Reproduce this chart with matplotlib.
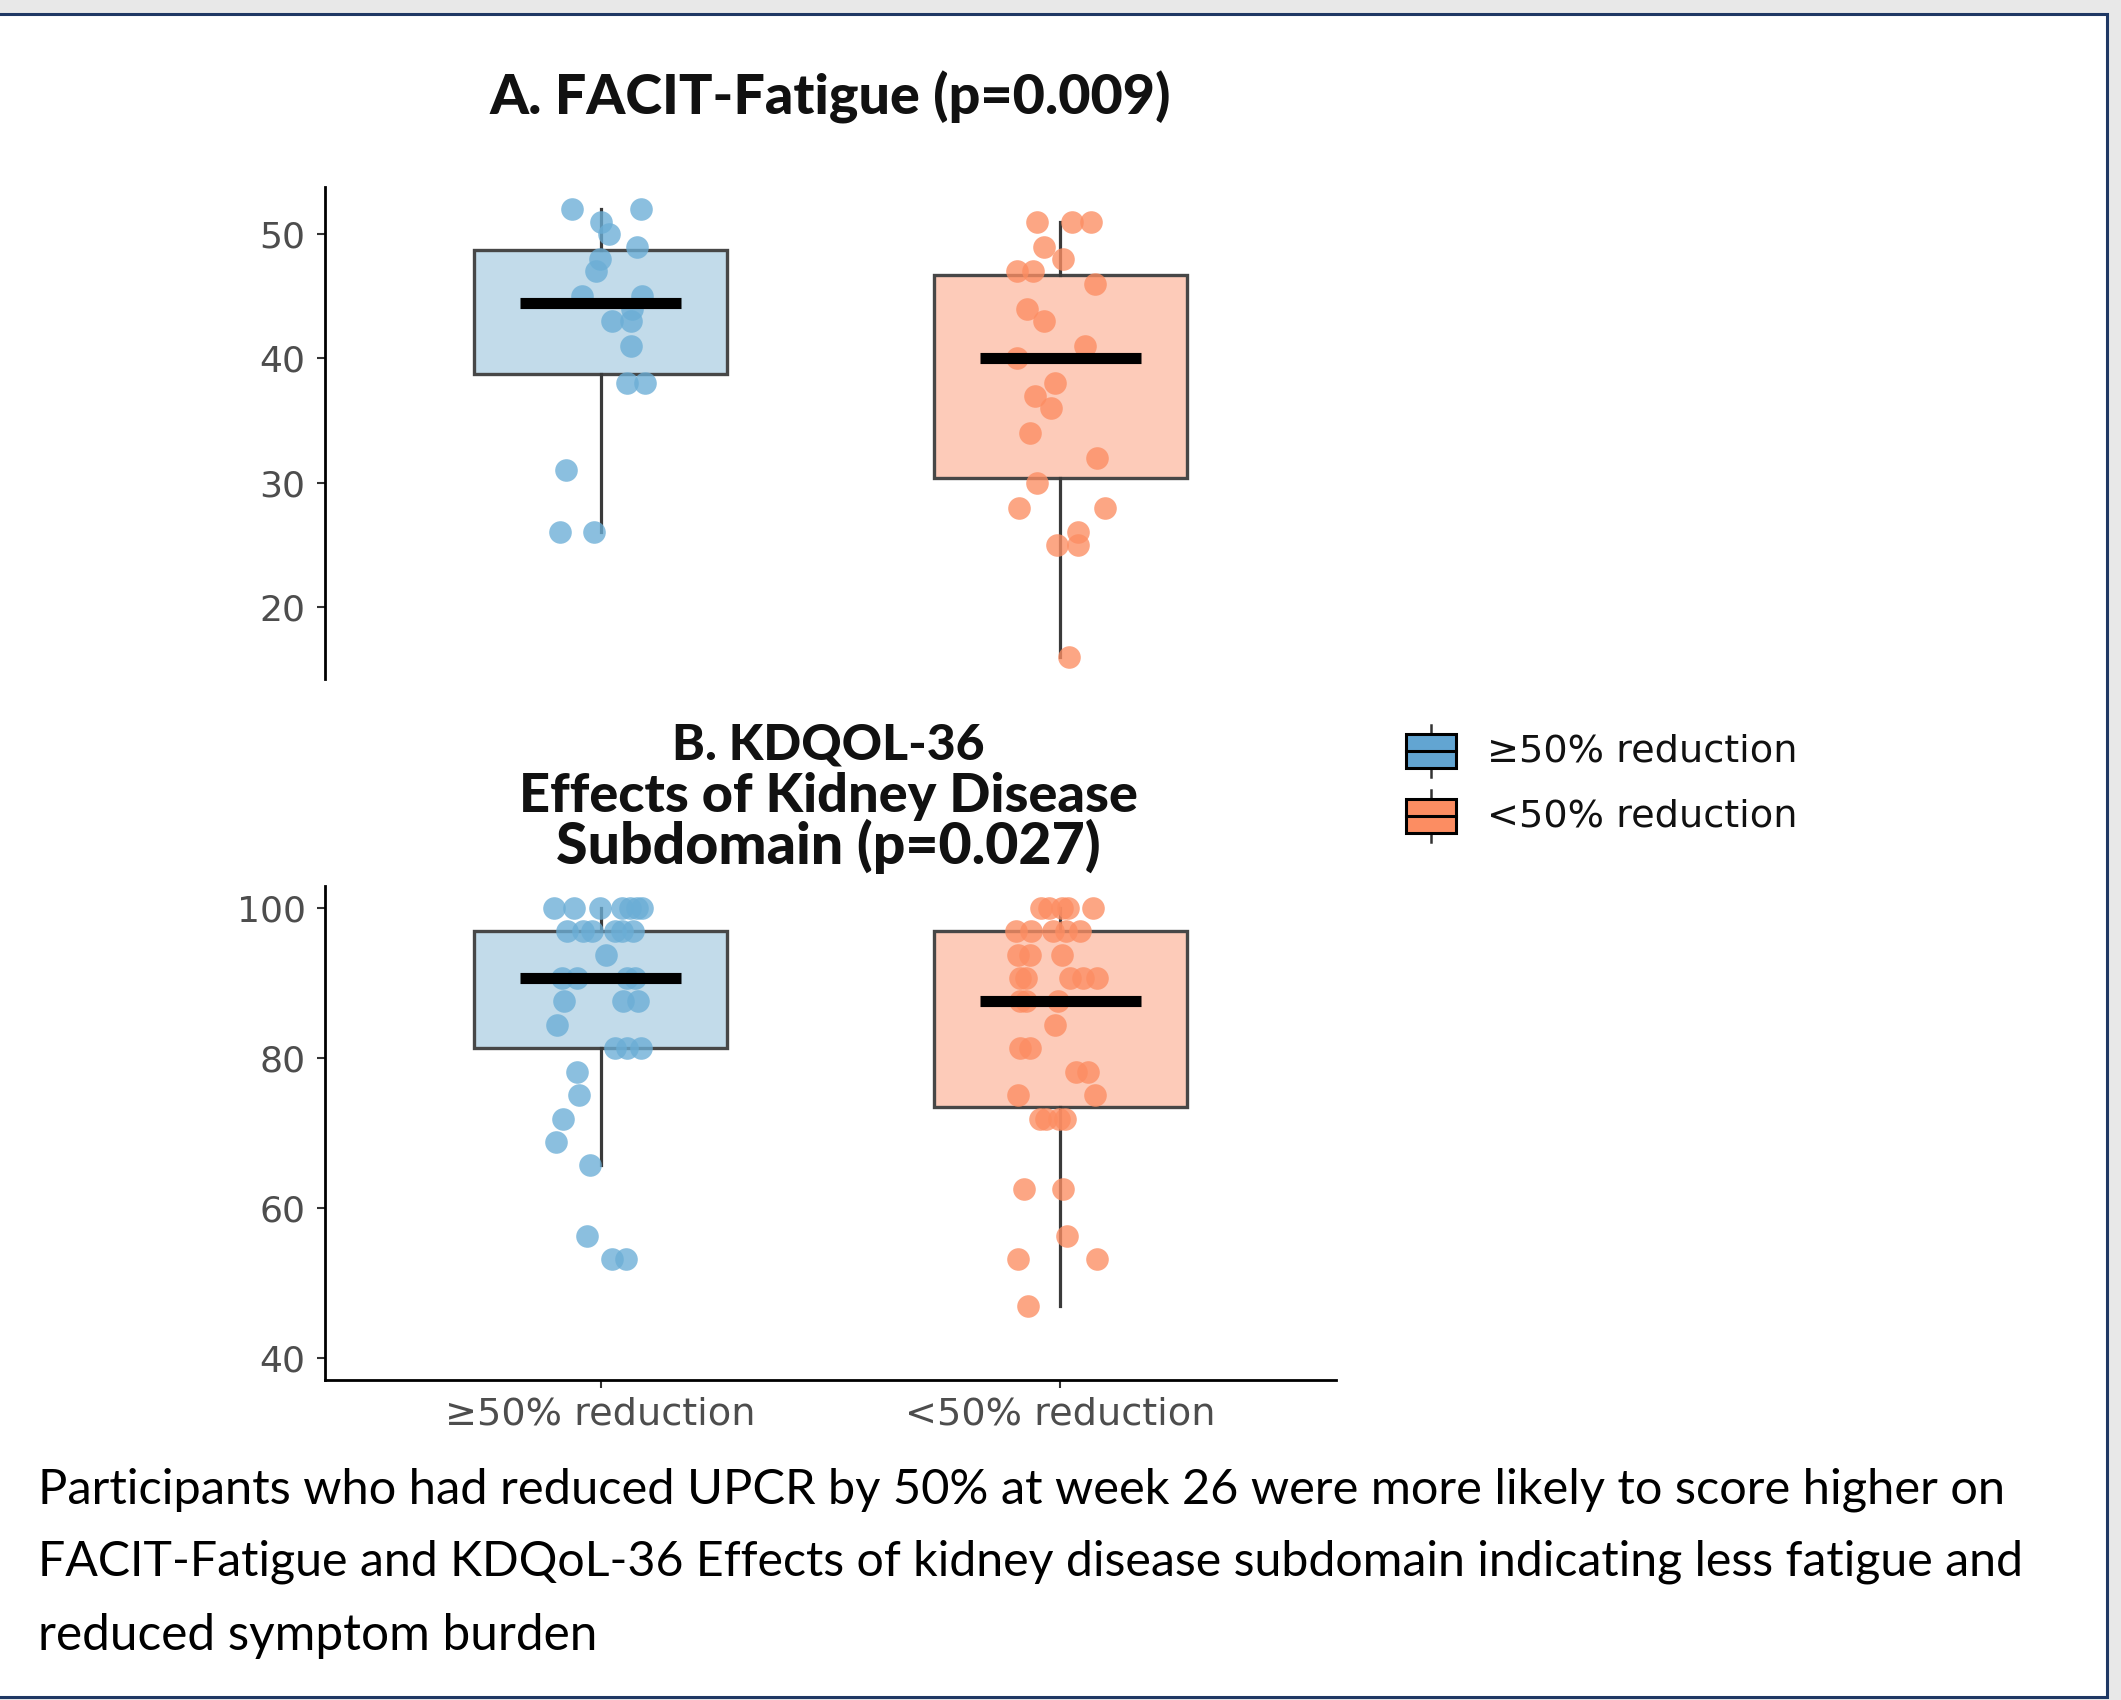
import matplotlib
matplotlib.use('Agg')
import matplotlib.pyplot as plt
import numpy as np
from matplotlib.patches import Rectangle

W, H, DPI = 2121, 1700, 100

# ---------------- data ----------------
groups = ['≥50% reduction', '<50% reduction']

# Panel A: FACIT-Fatigue
a_high_vals = [52, 52, 51, 50, 49, 48, 47, 45, 45, 44, 43, 43, 41, 38, 38, 31, 26, 26]
a_high_jit = [-0.062, 0.088, 0.0, 0.019, 0.080, -0.002, -0.010, -0.041, 0.090, 0.068,
              0.025, 0.065, 0.065, 0.057, 0.096, -0.076, -0.088, -0.015]
a_low_vals = [51, 51, 51, 49, 48, 47, 47, 46, 44, 43, 41, 40, 38, 37, 36, 34, 32, 30,
              28, 28, 26, 25, 25, 16]
a_low_jit = [-0.051, 0.026, 0.067, -0.035, 0.007, -0.095, -0.060, 0.075, -0.072, -0.036,
             0.054, -0.095, -0.012, -0.054, -0.020, -0.065, 0.080, -0.050, -0.090, 0.097,
             0.039, -0.007, 0.039, 0.020]
# box stats: whislo, q1, median, q3, whishi
a_high_box = [26, 38.75, 44.5, 48.75, 52]
a_low_box = [16, 30.4, 40, 46.7, 51]

# Panel B: KDQOL-36 Effects of Kidney Disease
b_high_vals = [100] * 7 + [96.875] * 6 + [93.75] + [90.625] * 4 + [87.5] * 3 + [84.375] + \
              [81.25] * 3 + [78.125, 75, 71.875, 68.75, 65.625, 56.25, 53.125, 53.125]
b_high_jit = [-0.101, -0.059, -0.001, 0.046, 0.064, 0.078, 0.089,
              -0.074, -0.038, -0.020, 0.031, 0.046, 0.071,
              0.012,
              -0.085, -0.051, 0.057, 0.075,
              -0.080, 0.049, 0.082,
              -0.096,
              0.031, 0.057, 0.087,
              -0.051, -0.047, -0.083, -0.098, -0.023, -0.030, 0.025, 0.054]
b_low_vals = [100] * 5 + [96.875] * 5 + [93.75] * 3 + [90.625] * 5 + [87.5] * 3 + [84.375] + \
             [81.25] * 2 + [78.125] * 2 + [75] * 2 + [71.875] * 4 + [62.5] * 2 + [56.25] + \
             [53.125] * 2 + [46.875]
b_low_jit = [-0.041, -0.025, 0.003, 0.017, 0.071,
             -0.097, -0.063, -0.016, 0.012, 0.044,
             -0.092, -0.066, 0.003,
             -0.088, -0.074, 0.021, 0.050, 0.080,
             -0.088, -0.074, -0.005,
             -0.012,
             -0.088, -0.066,
             0.035, 0.060,
             -0.092, 0.075,
             -0.045, -0.030, -0.002, 0.010,
             -0.079, 0.006,
             0.015,
             -0.093, 0.080,
             -0.071]
b_high_box = [65.625, 81.25, 90.625, 96.875, 100]
b_low_box = [46.875, 73.4, 87.5, 96.875, 100]

title_a = 'A. FACIT-Fatigue (p=0.009)'
title_b = ['B. KDQOL-36', 'Effects of Kidney Disease', 'Subdomain (p=0.027)']
caption = ['Participants who had reduced UPCR by 50% at week 26 were more likely to score higher on',
           'FACIT-Fatigue and KDQoL-36 Effects of kidney disease subdomain indicating less fatigue and',
           'reduced symptom burden']

# ---------------- style ----------------
pt_colors = ['#6baed6', '#fc8d62']
box_fills = ['#c2dbea', '#fdcbb9']
key_fills = ['#62a5d2', '#fc8d62']
TICK_FONT = ['DejaVu Sans']
TITLE_FONT = ['Lato', 'DejaVu Sans']
CAP_FONT = ['Lato', 'DejaVu Sans']

fig = plt.figure(figsize=(W / DPI, H / DPI), dpi=DPI, facecolor='#e8e8e8')

bg = fig.add_axes([0, 0, 1, 1], zorder=0)
bg.set_xlim(0, W)
bg.set_ylim(H, 0)
bg.axis('off')
bg.add_patch(Rectangle((-5, 14), 2107 + 5, 1697 - 14, facecolor='white',
                       edgecolor='#1f3864', lw=2.2))


def px_axes(x0, y0, x1, y1):
    return fig.add_axes([x0 / W, 1 - y1 / H, (x1 - x0) / W, (y1 - y0) / H], zorder=1)


def draw_panel(ax, boxes, vals_list, jit_list, ylim, yticks, show_x):
    stats = []
    for b, g in zip(boxes, groups):
        stats.append(dict(whislo=b[0], q1=b[1], med=b[2], q3=b[3], whishi=b[4], label=g))
    bp = ax.bxp(stats, positions=[1, 2], widths=0.55, patch_artist=True,
                showfliers=False, showcaps=False,
                boxprops=dict(linewidth=2.4, edgecolor='#474747'),
                whiskerprops=dict(color='#3a3a3a', linewidth=2.3),
                medianprops=dict(linewidth=0))
    for patch, fc in zip(bp['boxes'], box_fills):
        patch.set_facecolor(fc)
        patch.set_zorder(1)
    for w in bp['whiskers']:
        w.set_zorder(1.5)
    for i, (vals, jit) in enumerate(zip(vals_list, jit_list)):
        xs = (i + 1) + np.array(jit)
        ax.scatter(xs, vals, s=265, color=pt_colors[i], alpha=0.78, linewidths=0, zorder=2)
    meds = [b[2] for b in boxes]
    ax.hlines(meds, [0.825, 1.825], [1.175, 2.175], color='black', lw=8, zorder=3)
    ax.set_xlim(0.4, 2.6)
    ax.set_ylim(*ylim)
    ax.set_yticks(yticks)
    ax.set_yticklabels([str(t) for t in yticks], family=TICK_FONT, fontsize=26, color='#4d4d4d')
    ax.tick_params(axis='y', length=6, width=1.5, color='#333333', pad=8)
    for s in ['top', 'right']:
        ax.spines[s].set_visible(False)
    ax.spines['left'].set_linewidth(2.0)
    if show_x:
        ax.spines['bottom'].set_linewidth(2.0)
        ax.set_xticks([1, 2])
        ax.set_xticklabels(groups, family=TICK_FONT, fontsize=27.5, color='#4d4d4d')
        ax.tick_params(axis='x', length=6, width=1.5, color='#333333', pad=6)
    else:
        ax.spines['bottom'].set_visible(False)
        ax.set_xticks([])
    ax.set_facecolor('none')


axA = px_axes(325, 187, 1336, 679)
draw_panel(axA, [a_high_box, a_low_box], [a_high_vals, a_low_vals], [a_high_jit, a_low_jit],
           (14.2, 53.8), [20, 30, 40, 50], False)

axB = px_axes(325, 886, 1336, 1380)
draw_panel(axB, [b_high_box, b_low_box], [b_high_vals, b_low_vals], [b_high_jit, b_low_jit],
           (37.0, 102.9), [40, 60, 80, 100], True)

# ---------------- titles ----------------
fig.canvas.draw()
rend = fig.canvas.get_renderer()


def fit(t, target):
    w = t.get_window_extent(renderer=rend).width
    t.set_fontsize(t.get_fontsize() * target / w)
    return t.get_fontsize()


ta = bg.text(830, 114, title_a, ha='center', va='baseline', family=TITLE_FONT,
             fontweight='black', fontsize=30, color='#111111')
fit(ta, 680)
tb_targets = [311, 617, 544]
tb_base = [759, 812, 864]
for line, y, tw in zip(title_b, tb_base, tb_targets):
    t = bg.text(828, y, line, ha='center', va='baseline', family=TITLE_FONT,
                fontweight='black', fontsize=30, color='#111111')
    fit(t, tw)

# ---------------- legend ----------------
key_y = [751, 816]
for i, (g, yc) in enumerate(zip(groups, key_y)):
    bg.add_patch(Rectangle((1406, yc - 17), 50, 34, facecolor=key_fills[i],
                           edgecolor='black', lw=2.2, zorder=3))
    bg.plot([1406, 1456], [yc, yc], color='black', lw=2.2, zorder=4)
    bg.plot([1431, 1431], [yc - 26, yc - 17], color='#333333', lw=1.8, zorder=2)
    bg.plot([1431, 1431], [yc + 17, yc + 26], color='#333333', lw=1.8, zorder=2)
    bg.text(1487, yc, g, ha='left', va='center', family=TICK_FONT, fontsize=27.5,
            color='#111111')

# ---------------- caption ----------------
cap_base = [1503, 1576, 1650]
cap_widths = [1965, 1982, 559]
for line, y, tw in zip(caption, cap_base, cap_widths):
    t = bg.text(38, y, line, ha='left', va='baseline', family=CAP_FONT,
                fontsize=30, color='black')
    fit(t, tw)

fig.savefig('out.png', dpi=DPI, facecolor=fig.get_facecolor())
